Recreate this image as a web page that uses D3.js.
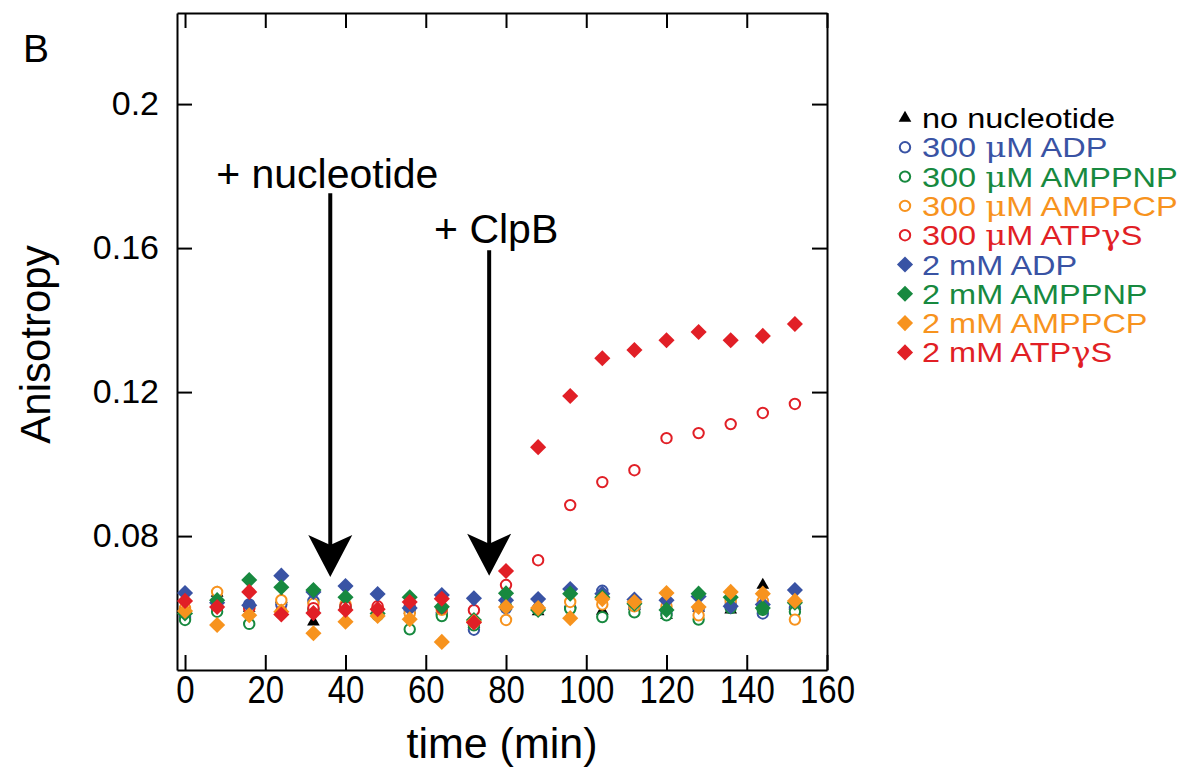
<!DOCTYPE html>
<html>
<head>
<meta charset="utf-8">
<script src="https://cdn.jsdelivr.net/npm/d3@7"></script>
<style>
  body { margin: 0; background: #fff; }
  text { font-family: "Liberation Sans", Arial, Helvetica, sans-serif; }
  tspan.greek { font-family: "DejaVu Serif", "Liberation Serif", serif; }
</style>
</head>
<body>
<svg id="chart" width="1193" height="780"></svg>
<script>
// Sampling times (min)
const times = [0, 8, 16, 24, 32, 40, 48, 56, 64, 72, 80, 88, 96, 104, 112, 120, 128, 136, 144, 152];

// Anisotropy per condition
const noNucleotide = [0.0595, 0.0642, 0.0600, 0.0625, 0.0562, 0.0605, 0.0603, 0.0595, 0.0598, 0.0555, 0.0605, 0.0590, 0.0612, 0.0592, 0.0605, 0.0580, 0.0600, 0.0595, 0.0664, 0.0605];
const adp300     = [0.0575, 0.0600, 0.0610, 0.0610, 0.0620, 0.0605, 0.0595, 0.0595, 0.0585, 0.0540, 0.0600, 0.0600, 0.0600, 0.0648, 0.0600, 0.0585, 0.0598, 0.0610, 0.0585, 0.0600];
const amppnp300  = [0.0567, 0.0590, 0.0556, 0.0585, 0.0595, 0.0600, 0.0580, 0.0541, 0.0578, 0.0552, 0.0605, 0.0595, 0.0598, 0.0575, 0.0588, 0.0580, 0.0568, 0.0600, 0.0595, 0.0590];
const amppcp300  = [0.0600, 0.0645, 0.0600, 0.0622, 0.0612, 0.0610, 0.0600, 0.0585, 0.0595, 0.0560, 0.0567, 0.0598, 0.0617, 0.0610, 0.0605, 0.0605, 0.0580, 0.0620, 0.0620, 0.0568];
const atpgs300   = [0.0590, 0.0605, 0.0600, 0.0590, 0.0600, 0.0605, 0.0605, 0.0605, 0.0600, 0.0594, 0.0664, 0.0733, 0.0886, 0.0950, 0.0983, 0.1072, 0.1086, 0.1111, 0.1142, 0.1167];
const adp2       = [0.0642, 0.0615, 0.0608, 0.0690, 0.0645, 0.0661, 0.0639, 0.0600, 0.0636, 0.0627, 0.0622, 0.0625, 0.0653, 0.0640, 0.0624, 0.0622, 0.0632, 0.0605, 0.0610, 0.0650];
const amppnp2    = [0.0585, 0.0622, 0.0678, 0.0658, 0.0650, 0.0630, 0.0585, 0.0630, 0.0604, 0.0567, 0.0641, 0.0595, 0.0640, 0.0630, 0.0612, 0.0595, 0.0640, 0.0630, 0.0600, 0.0615];
const amppcp2    = [0.0592, 0.0553, 0.0580, 0.0590, 0.0530, 0.0562, 0.0578, 0.0569, 0.0506, 0.0562, 0.0603, 0.0600, 0.0572, 0.0625, 0.0617, 0.0642, 0.0603, 0.0645, 0.0640, 0.0620];
const atpgs2     = [0.0620, 0.0603, 0.0645, 0.0582, 0.0586, 0.0595, 0.0597, 0.0617, 0.0626, 0.0560, 0.0703, 0.1047, 0.1189, 0.1294, 0.1317, 0.1344, 0.1367, 0.1344, 0.1356, 0.1389];

// Axis ticks
const xTicks = [0, 20, 40, 60, 80, 100, 120, 140, 160];
const yTicks = [0.08, 0.12, 0.16, 0.2];
const yTickLabels = ["0.08", "0.12", "0.16", "0.2"];

// Addition events: label, time, label level, arrow start and tip levels
const events = [
  { label: "+ nucleotide", t: 36.2, labelY: 0.1767, top: 0.1752, tip: 0.0686, dx: -3 },
  { label: "+ ClpB",       t: 75.8, labelY: 0.1614, top: 0.1594, tip: 0.0690, dx: 7 }
];

const BLUE = "#3953a4", GREEN = "#17893f", ORANGE = "#f7931e", RED = "#e11f26";

// Legend names split into plain / Greek pieces
const series = [
  { name: [["no nucleotide"]],                                   color: "#000", shape: "triangle", values: noNucleotide },
  { name: [["300 "], ["\u03bc", 1], ["M ADP"]],                    color: BLUE,   shape: "circle",  values: adp300 },
  { name: [["300 "], ["\u03bc", 1], ["M AMPPNP"]],                 color: GREEN,  shape: "circle",  values: amppnp300 },
  { name: [["300 "], ["\u03bc", 1], ["M AMPPCP"]],                 color: ORANGE, shape: "circle",  values: amppcp300 },
  { name: [["300 "], ["\u03bc", 1], ["M ATP"], ["\u03b3", 1], ["S"]], color: RED,  shape: "circle",  values: atpgs300 },
  { name: [["2 mM ADP"]],                                        color: BLUE,   shape: "diamond", values: adp2 },
  { name: [["2 mM AMPPNP"]],                                     color: GREEN,  shape: "diamond", values: amppnp2 },
  { name: [["2 mM AMPPCP"]],                                     color: ORANGE, shape: "diamond", values: amppcp2 },
  { name: [["2 mM ATP"], ["\u03b3", 1], ["S"]],                  color: RED,    shape: "diamond", values: atpgs2 }
];

const svg = d3.select("#chart");
const plotLeft = 177, plotRight = 827, plotTop = 13, plotBottom = 670;

const x = d3.scaleLinear().domain([-2, 160]).range([plotLeft, plotRight]);
const y = d3.scaleLinear().domain([0.0428, 0.2253]).range([plotBottom, plotTop]);

// Frame and axes with inward ticks
const TICK = 15;
const axisStyle = g => {
  g.select(".domain").attr("stroke", "#000").attr("stroke-width", 2);
  g.selectAll(".tick line").attr("stroke", "#000").attr("stroke-width", 2);
  g.selectAll(".tick text").attr("fill", "#000");
};

svg.append("g")
  .attr("transform", `translate(0,${plotBottom})`)
  .call(d3.axisBottom(x).tickValues(xTicks).tickSizeInner(-TICK).tickSizeOuter(0).tickPadding(6).tickFormat(d3.format("d")))
  .call(axisStyle)
  .call(g => g.selectAll(".tick text")
    .attr("font-size", 33)
    .attr("font-family", "Liberation Sans, Arial, sans-serif")
    .attr("y", 0)
    .attr("transform", "translate(0,6) scale(1,1.15)"));

svg.append("g")
  .attr("transform", `translate(0,${plotTop})`)
  .call(d3.axisTop(x).tickValues(xTicks).tickSizeInner(-TICK).tickSizeOuter(0).tickFormat(""))
  .call(axisStyle);

svg.append("g")
  .attr("transform", `translate(${plotLeft},0)`)
  .call(d3.axisLeft(y).tickValues(yTicks).tickSizeInner(-TICK).tickSizeOuter(0).tickPadding(18)
        .tickFormat((d, i) => yTickLabels[i]))
  .call(axisStyle)
  .call(g => g.selectAll(".tick text").attr("font-size", 34).attr("font-family", "Liberation Sans, Arial, sans-serif"));

svg.append("g")
  .attr("transform", `translate(${plotRight},0)`)
  .call(d3.axisRight(y).tickValues(yTicks).tickSizeInner(-TICK).tickSizeOuter(0).tickFormat(""))
  .call(axisStyle);

// Axis titles and panel letter
svg.append("text")
  .attr("x", (plotLeft + plotRight) / 2).attr("y", 758)
  .attr("text-anchor", "middle").attr("font-size", 43)
  .text("time (min)");

svg.append("text")
  .attr("transform", `translate(50,${(plotTop + plotBottom) / 2 + 3}) rotate(-90)`)
  .attr("text-anchor", "middle").attr("font-size", 42)
  .text("Anisotropy");

svg.append("text")
  .attr("x", 23).attr("y", 62).attr("font-size", 39)
  .text("B");

// Marker shapes
const triPath = d3.symbol().type(d3.symbolTriangle).size(70)();
const diaPath = d3.symbol().type(d3.symbolSquare).size(130)();

function drawMarker(g, shape, color) {
  if (shape === "triangle") {
    g.append("path").attr("d", triPath).attr("fill", color);
  } else if (shape === "circle") {
    g.append("circle").attr("r", 5.2).attr("fill", "#fff")
      .attr("stroke", color).attr("stroke-width", 2);
  } else {
    g.append("path").attr("d", diaPath).attr("transform", "rotate(45)").attr("fill", color);
  }
}

// Data points
const plot = svg.append("g");
series.forEach(s => {
  const pts = plot.append("g").selectAll("g")
    .data(times.map((t, i) => ({ t, v: s.values[i] })))
    .join("g")
    .attr("transform", d => `translate(${x(d.t)},${y(d.v)})`);
  pts.each(function () { drawMarker(d3.select(this), s.shape, s.color); });
});

// Addition arrows
const ev = svg.append("g");
events.forEach(e => {
  const ax = x(e.t), tipY = y(e.tip);
  ev.append("text")
    .attr("x", ax + e.dx).attr("y", y(e.labelY))
    .attr("text-anchor", "middle").attr("font-size", 41)
    .text(e.label);
  ev.append("line")
    .attr("x1", ax).attr("x2", ax)
    .attr("y1", y(e.top)).attr("y2", tipY - 30)
    .attr("stroke", "#000").attr("stroke-width", 4);
  ev.append("path")
    .attr("d", `M${ax},${tipY} L${ax - 22},${tipY - 42} L${ax},${tipY - 32} L${ax + 22},${tipY - 42} Z`)
    .attr("fill", "#000");
});

// Legend
const legend = svg.append("g").attr("transform", "translate(905,118)");
series.forEach((s, i) => {
  const row = legend.append("g").attr("transform", `translate(0,${i * 29.3})`);
  drawMarker(row, s.shape, s.color);
  const label = row.append("text")
    .attr("transform", "translate(17,0) scale(1.16,1)")
    .attr("dy", "0.36em")
    .attr("font-size", 28)
    .attr("fill", s.color);
  s.name.forEach(([txt, greek]) => {
    const span = label.append("tspan").text(txt);
    if (greek) span.attr("class", "greek").attr("font-family", "DejaVu Serif, Liberation Serif, serif");
  });
});
</script>
</body>
</html>
